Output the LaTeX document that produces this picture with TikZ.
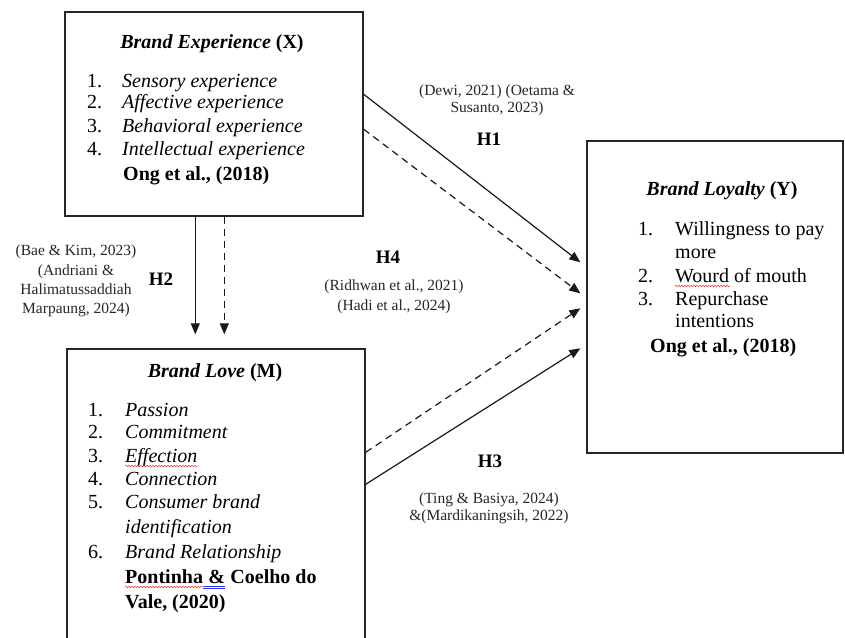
\documentclass[tikz,border=0pt]{standalone}
\usepackage{fontspec}
\setmainfont{Liberation Serif}
\usetikzlibrary{arrows.meta,calc,decorations.pathmorphing}
\begin{document}
\begin{tikzpicture}[x=1pt,y=-1pt,
 box/.style={draw=black!85, line width=1.4pt, inner sep=0pt},
 txt/.style={anchor=base west, inner sep=0pt, font=\fontsize{20}{23}\selectfont},
 ttl/.style={anchor=base, inner sep=0pt, font=\fontsize{20}{23}\selectfont\bfseries},
 cite/.style={anchor=base, inner sep=0pt, font=\fontsize{15.5}{17}\selectfont, text=black!85},
 hyp/.style={anchor=base, inner sep=0pt, font=\fontsize{19}{22}\selectfont\bfseries},
 arr/.style={line width=1.2pt, draw=black!90, -{Triangle[length=11pt,width=9pt]}},
 dsh/.style={arr, dash pattern=on 7pt off 5pt},
 squig/.style={red!80, line width=0.5pt, decorate, decoration={snake, amplitude=0.8pt, segment length=3pt}}
]
\useasboundingbox (0,0) rectangle (845,637);
\clip (0,0) rectangle (845,637);
\fill[white] (0,0) rectangle (845,637);

% boxes
\node[box, minimum width=298pt, minimum height=204pt] (X) at (214,114) {};
\node[box, minimum width=256pt, minimum height=312pt] (Y) at (715,297) {};
\node[box, minimum width=298pt, minimum height=311pt] (M) at (216,504.5) {};

% Box X text
\node[ttl] (xt) at (212,48) {{\itshape Brand Experience} (X)};
\node[txt] (xn1) at (87,87) {1.};
\node[txt] (xi1) at (122,87) {\itshape Sensory experience};
\node[txt] (xn2) at (87,108) {2.};
\node[txt] (xi2) at (122,108) {\itshape Affective experience};
\node[txt] (xn3) at (87,132) {3.};
\node[txt] (xi3) at (122,132) {\itshape Behavioral experience};
\node[txt] (xn4) at (87,155) {4.};
\node[txt] (xi4) at (122,155) {\itshape Intellectual experience};
\node[txt] (xs) at (123,180) {\bfseries Ong et al., (2018)};

% Box Y text
\node[ttl] (yt) at (722,195) {{\itshape Brand Loyalty} (Y)};
\node[txt] (yn1) at (638,235) {1.};
\node[txt] (yi1) at (675,235) {Willingness to pay};
\node[txt] (yi1b) at (675,258) {more};
\node[txt] (yn2) at (638,282) {2.};
\node[txt] (yi2) at (675,282) {Wourd of mouth};
\node[txt] (yn3) at (638,305) {3.};
\node[txt] (yi3) at (675,305) {Repurchase};
\node[txt] (yi3b) at (675,327) {intentions};
\node[txt] (ys) at (650,352) {\bfseries Ong et al., (2018)};
\draw[squig] (675,286) -- (730,286);

% Box M text
\node[ttl] (mt) at (215,377) {{\itshape Brand Love} (M)};
\node[txt] (mn1) at (88,416) {1.};
\node[txt] (mi1) at (125,416) {\itshape Passion};
\node[txt] (mn2) at (88,438) {2.};
\node[txt] (mi2) at (125,438) {\itshape Commitment};
\node[txt] (mn3) at (88,462) {3.};
\node[txt] (mi3) at (125,462) {\itshape Effection};
\node[txt] (mn4) at (88,485) {4.};
\node[txt] (mi4) at (125,485) {\itshape Connection};
\node[txt] (mn5) at (88,508) {5.};
\node[txt] (mi5) at (125,508) {\itshape Consumer brand};
\node[txt] (mi5b) at (125,533) {\itshape identification};
\node[txt] (mn6) at (88,558) {6.};
\node[txt] (mi6) at (125,558) {\itshape Brand Relationship};
\node[txt] (ms1) at (125,583) {\bfseries Pontinha};
\node[txt] (ms2) at ($(ms1.base east)+(5,0)$) {\bfseries \&};
\node[txt] (ms3) at ($(ms2.base east)+(5,0)$) {\bfseries Coelho do};
\node[txt] (ms4) at (125,608) {\bfseries Vale, (2020)};
\draw[squig] ($(mi3.base west)+(0,4)$) -- ($(mi3.base east)+(0,4)$);
\draw[squig] ($(ms1.base west)+(0,4)$) -- ($(ms1.base east)+(0,4)$);
\draw[blue!80, line width=0.5pt] ($(ms1.base east)+(0,3.5)$) -- ($(ms2.base east)+(0,3.5)$);
\draw[blue!80, line width=0.5pt] ($(ms1.base east)+(0,5.5)$) -- ($(ms2.base east)+(0,5.5)$);

% arrow endpoints
\coordinate (h1s) at ($(X.north east)+(0,83)$);
\coordinate (h4s) at ($(X.north east)+(0,118)$);
\coordinate (h1e) at ($(Y.north west)+(-6,122)$);
\coordinate (h4e) at ($(Y.north west)+(-6,153)$);
\coordinate (m4s) at ($(M.north east)+(0,104)$);
\coordinate (m3s) at ($(M.north east)+(0,136)$);
\coordinate (m4e) at ($(Y.north west)+(-6,168)$);
\coordinate (h3e) at ($(Y.north west)+(-6,208)$);
\coordinate (h2s) at ($(X.south west)+(131,0)$);
\coordinate (h2e) at ($(M.north west)+(129,-14)$);
\coordinate (d2s) at ($(X.south west)+(160,0)$);
\coordinate (d2e) at ($(M.north west)+(158,-14)$);

\draw[arr] (h1s) -- (h1e);
\draw[dsh] (h4s) -- (h4e);
\draw[dsh] (m4s) -- (m4e);
\draw[arr] (m3s) -- (h3e);
\draw[arr] (h2s) -- (h2e);
\draw[dsh] (d2s) -- (d2e);

% labels
\node[cite] (c1a) at (497,95) {(Dewi, 2021) (Oetama \&};
\node[cite] (c1b) at (497,112) {Susanto, 2023)};
\node[hyp] (H1) at (489,145) {H1};

\node[hyp] (H4) at (388,263) {H4};
\node[cite] (c4a) at (394,290) {(Ridhwan et al., 2021)};
\node[cite] (c4b) at (394,310) {(Hadi et al., 2024)};

\node[hyp] (H2) at (161,285) {H2};
\node[cite] (c2a) at (76,255) {(Bae \& Kim, 2023)};
\node[cite] (c2b) at (76,275) {(Andriani \&};
\node[cite] (c2c) at (76,294) {Halimatussaddiah};
\node[cite] (c2d) at (76,313) {Marpaung, 2024)};

\node[hyp] (H3) at (490,467) {H3};
\node[cite] (c3a) at (489,503) {(Ting \& Basiya, 2024)};
\node[cite] (c3b) at (489,520) {\&(Mardikaningsih, 2022)};
\end{tikzpicture}
\end{document}
